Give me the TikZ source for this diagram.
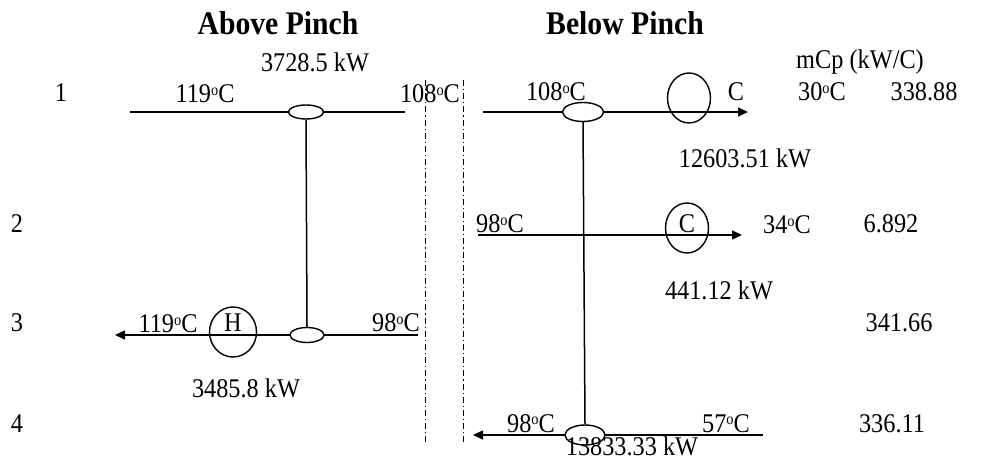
\documentclass[tikz,border=0pt]{standalone}
\usepackage{fontspec}
\setmainfont{Liberation Serif}[FakeStretch=0.9]
\usetikzlibrary{shapes.geometric,arrows.meta}
\newcommand\dgc{\raisebox{3.8pt}{\fontsize{8}{8}\selectfont o}C}
\begin{document}
\begin{tikzpicture}[x=0.5pt,y=-0.5pt,
  lbl/.style={inner sep=0pt,anchor=base,font=\fontsize{13.5}{15}\selectfont},
  ttl/.style={inner sep=0pt,anchor=base,font=\fontsize{16.5}{18}\selectfont\bfseries},
  stream/.style={line width=0.75pt},
  arr/.style={stream,-{Triangle[length=5pt,width=4.5pt]}},
  hx/.style={ellipse,draw,fill=white,line width=0.7pt,inner sep=0pt},
  util/.style={ellipse,draw,line width=0.7pt,inner sep=0pt,minimum width=21.5pt,minimum height=25pt},
  pinch/.style={line width=0.5pt,dash pattern=on 3pt off 1.5pt on 0.6pt off 1.5pt}]
\useasboundingbox (0,0) rectangle (994,469);
% titles
\node[ttl] (tA) at (278,35) {Above Pinch};
\node[ttl] (tB) at (625,35) {Below Pinch};
% pinch lines
\coordinate (p1t) at (425,80); \coordinate (p1b) at (425,442);
\coordinate (p2t) at (463,80); \coordinate (p2b) at (463,442);
\draw[pinch] (p1t) -- (p1b);
\draw[pinch] (p2t) -- (p2b);
% stream coordinates
\coordinate (s1a) at (130,112); \coordinate (s1b) at (405,112);
\coordinate (s1c) at (483,112); \coordinate (s1d) at (748,112);
\coordinate (s2a) at (478,235); \coordinate (s2d) at (742,235);
\coordinate (s3a) at (418,335); \coordinate (s3d) at (115,335);
\coordinate (s4a) at (763,435); \coordinate (s4d) at (473,435);
\draw[stream] (s1a) -- (s1b);
\draw[arr] (s1c) -- (s1d);
\draw[arr] (s2a) -- (s2d);
\draw[arr] (s3a) -- (s3d);
\draw[arr] (s4a) -- (s4d);
% exchangers
\node[hx,minimum width=17.5pt,minimum height=7pt] (e1) at (306,112) {};
\node[hx,minimum width=17pt,minimum height=7.5pt] (e3) at (307,335) {};
\node[hx,minimum width=20.5pt,minimum height=9.5pt] (e2) at (583,112) {};
\node[hx,minimum width=20pt,minimum height=10pt] (e4) at (585,435) {};
\draw[stream] (e1.south) -- (e3.north);
\draw[stream] (e2.south) -- (e4.north);
% utilities
\node[util] (c1) at (689,98) {};
\node[util] (c2) at (687,228) {};
\node[util,minimum width=23.5pt] (h3) at (233,332) {};
\node[lbl] (c1l) at (736,101) {C};
\node[lbl] (c2l) at (687,233) {C};
\node[lbl] (h3l) at (233,332) {H};
% stream numbers
\node[lbl] (n1) at (61,102) {1};
\node[lbl] (n2) at (17,233) {2};
\node[lbl] (n3) at (17,332) {3};
\node[lbl] (n4) at (17,432) {4};
% temperatures
\node[lbl] (t1a) at (205,103) {119\dgc};
\node[lbl] (t1b) at (430,103) {108\dgc};
\node[lbl] (t1c) at (556,101) {108\dgc};
\node[lbl] (t1d) at (822,101) {30\dgc};
\node[lbl] (t2a) at (500,233) {98\dgc};
\node[lbl] (t2d) at (787,234) {34\dgc};
\node[lbl] (t3a) at (168,333) {119\dgc};
\node[lbl] (t3b) at (396,332) {98\dgc};
\node[lbl] (t4a) at (531,432) {98\dgc};
\node[lbl] (t4b) at (726,432) {57\dgc};
% mCp
\node[lbl] (mh) at (860,69) {mCp (kW/C)};
\node[lbl] (m1) at (924,101) {338.88};
\node[lbl] (m2) at (891,233) {6.892};
\node[lbl] (m3) at (899,332) {341.66};
\node[lbl] (m4) at (892,432) {336.11};
% duties
\node[lbl] (d1) at (315,72) {3728.5 kW};
\node[lbl] (d2) at (745,168) {12603.51 kW};
\node[lbl] (d3) at (719,300) {441.12 kW};
\node[lbl] (d4) at (246,398) {3485.8 kW};
\node[lbl] (d5) at (632,455) {13833.33 kW};
\end{tikzpicture}
\end{document}
